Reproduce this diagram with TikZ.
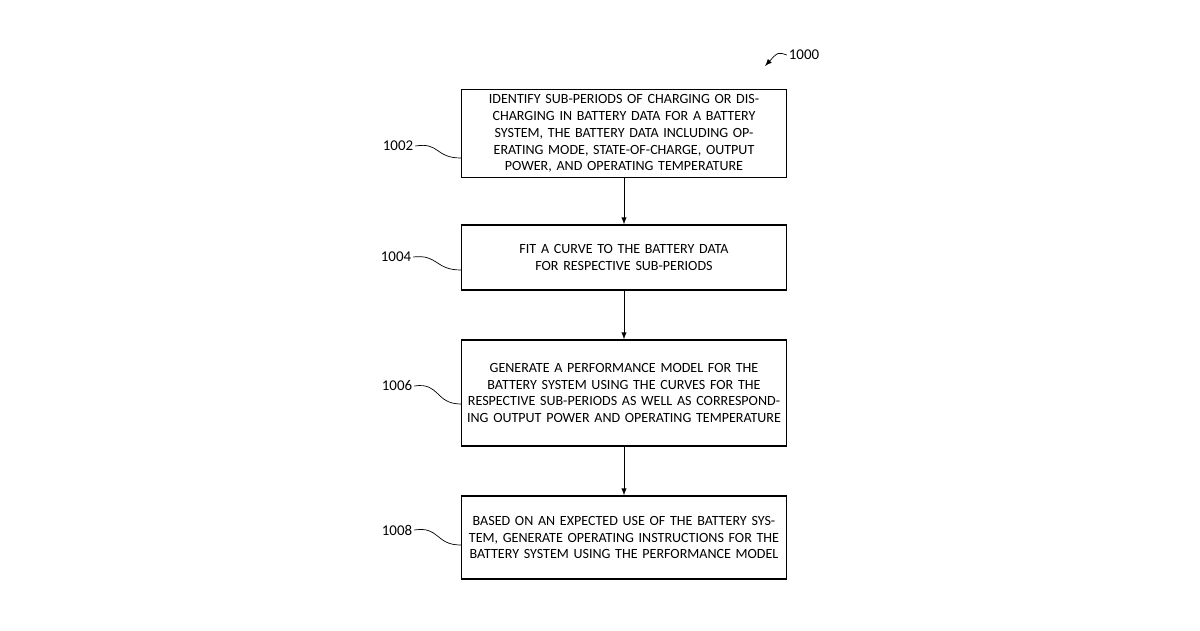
\documentclass[tikz,border=0pt]{standalone}
\usepackage{fontspec}
\setmainfont{Carlito}
\usetikzlibrary{arrows,positioning}
\tikzset{
  process/.style={
      rectangle,
      draw=black,
      thick,
      text width=6.3cm,
      align=center,
      inner sep=1mm,
      font=\fontsize{8}{9.6}\selectfont
  },
  tag/.style={font=\fontsize{8.5}{10}\selectfont, inner sep=1pt},
  wave/.style={thin}
}

\begin{document}
\begin{tikzpicture}[x=0.02cm,y=-0.02cm]
    \useasboundingbox (0,0) rectangle (1200,630);
    \node[process,minimum height=1.66cm] (identify) at (624,133.5)
      {IDENTIFY SUB-PERIODS OF CHARGING OR DISCHARGING IN BATTERY DATA FOR A BATTERY SYSTEM, THE BATTERY DATA INCLUDING OPERATING MODE, STATE-OF-CHARGE, OUTPUT POWER, AND OPERATING TEMPERATURE};
    \node[process,minimum height=1.3cm] (fit) at (624,257.5)
      {FIT A CURVE TO THE BATTERY DATA FOR RESPECTIVE SUB-PERIODS};
    \node[process,minimum height=2.12cm] (model) at (624,393)
      {GENERATE A PERFORMANCE MODEL FOR THE BATTERY SYSTEM USING THE CURVES FOR THE RESPECTIVE SUB-PERIODS AS WELL AS CORRESPONDING OUTPUT POWER AND OPERATING TEMPERATURE};
    \node[process,minimum height=1.66cm] (instruct) at (624,537.5)
      {BASED ON AN EXPECTED USE OF THE BATTERY SYSTEM, GENERATE OPERATING INSTRUCTIONS FOR THE BATTERY SYSTEM USING THE PERFORMANCE MODEL};

    \draw[-latex] (identify) -- (fit);
    \draw[-latex] (fit) -- (model);
    \draw[-latex] (model) -- (instruct);

    % reference labels
    \node[tag] (l1002) at (398,146) {1002};
    \node[tag] (l1004) at (396,257) {1004};
    \node[tag] (l1006) at (397,386) {1006};
    \node[tag] (l1008) at (397,530) {1008};
    \node[tag] (l1000) at (804,55) {1000};
    \coordinate (p1000) at (765,66);

    \draw[wave] (l1002.east) .. controls (440,142) and (435,158) .. (identify.west |- 0,158);
    \draw[wave] (l1004.east) .. controls (438,254) and (435,270) .. (fit.west |- 0,270);
    \draw[wave] (l1006.east) .. controls (440,382) and (435,404) .. (model.west |- 0,404);
    \draw[wave] (l1008.east) .. controls (440,526) and (435,545) .. (instruct.west |- 0,545);
    \draw[-latex] (l1000.west) .. controls (778,52) .. (p1000);
\end{tikzpicture}
\end{document}
